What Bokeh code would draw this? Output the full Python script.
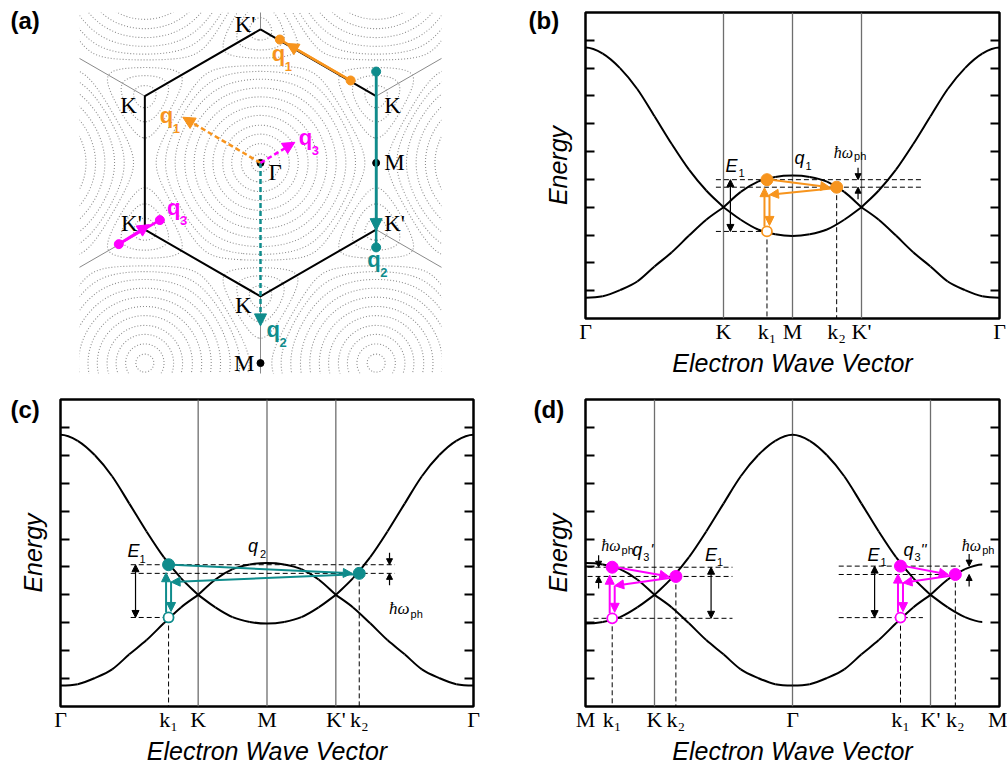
import numpy as np
from bokeh.plotting import figure
from bokeh.layouts import column, row
from bokeh.models import (Range1d, FixedTicker, LinearAxis, CustomJSTickFormatter,
                          Arrow, NormalHead, Title)
from bokeh.core.properties import value
from bokeh.embed import file_html
from bokeh.resources import INLINE

# ======================= DATA =======================
# Band structure, along Γ-K-M-K'-Γ
# (k in units of |KM|, energy in units of one y-tick spacing, 0 at the Dirac point)
band_k = [0.0, 0.25, 0.5, 0.75, 1.0, 1.25, 1.5, 1.75, 2.0, 2.25, 2.5, 2.75, 3.0,
          3.25, 3.5, 3.75, 4.0, 4.25, 4.5, 4.75, 5.0, 5.25, 5.5, 5.75, 6.0]
band_upper = [5.74, 5.52, 5.00, 4.25, 3.27, 2.27, 1.35, 0.60, 0.00, 0.55, 0.92, 1.09, 1.14,
              1.09, 0.92, 0.55, 0.00, 0.60, 1.35, 2.27, 3.27, 4.25, 5.00, 5.52, 5.74]
band_lower = [-3.25, -3.20, -2.98, -2.67, -2.13, -1.62, -1.02, -0.45, 0.00, -0.45, -0.80, -0.97, -1.03,
              -0.97, -0.80, -0.45, 0.00, -0.45, -1.02, -1.62, -2.13, -2.67, -2.98, -3.20, -3.25]
energy_ticks = [-3, -2, -1, 0, 1, 2, 3, 4, 5, 6]

path_bc_pos = [0, 2, 3, 4, 6]
path_bc_lab = ["Γ", "K", "M", "K'", "Γ"]
path_d_pos = [0, 1, 3, 5, 6]
path_d_lab = ["M", "K", "Γ", "K'", "M"]

# scattering processes: k1, k2 positions; energies of the excited state (E1),
# the state after phonon emission (E2) and the hole (Eh)
b_k = [2.63, 3.64]
b_E = [0.99, 0.72, -0.87]
c_k = [1.57, 4.34]
c_E = [1.08, 0.77, -0.81]
dL_k = [0.387, 1.31]
dL_E = [0.99, 0.66, -0.84]
dR_k = [4.565, 5.36]
dR_E = [1.03, 0.73, -0.815]

# Brillouin zone (panel a), units of |ΓM|
bz_angles = [90, 30, -30, -90, -150, 150]
bz_labels = ["K'", "K", "K'", "K", "K'", "K"]
sym_x = [0.0, 1.0, 0.0]
sym_y = [0.0, 0.0, -1.732]
sym_labels = ["Γ", "M", "M"]
q_subs = ["1", "2", "3"]
q_colors = ["#F7941D", "#0F8C8C", "#FF00FF"]
q_start_x = [0.779, 1.0, -1.225]
q_start_y = [0.713, 0.790, -0.703]
q_end_x = [0.167, 1.0, -0.870]
q_end_y = [1.067, -0.731, -0.495]
q_tip_x = [0.225, 1.0, -0.960]
q_tip_y = [1.033, -0.586, -0.534]
q_dtip_x = [-0.672, 0.0, 0.297]
q_dtip_y = [0.395, -1.410, 0.178]
contour_levels = [0.30, 0.60, 0.85, 1.09, 1.27, 1.51, 1.77, 2.02, 2.26, 2.47, 2.66, 2.80, 2.91, 2.98]

ORANGE, TEAL, MAGENTA = q_colors
SERIF = "Liberation Serif"
SANS = "Liberation Sans"

# ======================= HELPERS =======================
def smooth(p, xs, ys, kinks, edges, **kw):
    xs = np.asarray(xs, float)
    ys = np.asarray(ys, float)
    bounds = sorted(set([edges[0], edges[1]] + list(kinks)))
    acc = {k: [] for k in ("x0", "y0", "x1", "y1", "cx0", "cy0", "cx1", "cy1")}
    for a, b in zip(bounds[:-1], bounds[1:]):
        m = (xs >= a - 1e-9) & (xs <= b + 1e-9)
        bx, by = xs[m], ys[m]
        o = np.argsort(bx)
        bx, by = bx[o], by[o]
        if a in kinks:
            g0 = (2 * bx[0] - bx[1], 2 * by[0] - by[1])
        else:
            g0 = (2 * bx[0] - bx[1], by[1])
        if b in kinks:
            g1 = (2 * bx[-1] - bx[-2], 2 * by[-1] - by[-2])
        else:
            g1 = (2 * bx[-1] - bx[-2], by[-2])
        px = np.concatenate([[g0[0]], bx, [g1[0]]])
        py = np.concatenate([[g0[1]], by, [g1[1]]])
        for j in range(len(bx) - 1):
            P0 = np.array([px[j], py[j]]); P1 = np.array([px[j + 1], py[j + 1]])
            P2 = np.array([px[j + 2], py[j + 2]]); P3 = np.array([px[j + 3], py[j + 3]])
            C0 = P1 + (P2 - P0) / 6.0
            C1 = P2 - (P3 - P1) / 6.0
            acc["x0"].append(P1[0]); acc["y0"].append(P1[1])
            acc["x1"].append(P2[0]); acc["y1"].append(P2[1])
            acc["cx0"].append(C0[0]); acc["cy0"].append(C0[1])
            acc["cx1"].append(C1[0]); acc["cy1"].append(C1[1])
    p.bezier(**acc, **kw)


def band_fig(fw, fh, left, right, top, bottom, tick_pos, tick_lab):
    p = figure(frame_width=fw, frame_height=fh, x_range=Range1d(0, 6), y_range=Range1d(-4, 7),
               output_backend="svg", toolbar_location=None, tools="",
               min_border_left=left, min_border_right=right,
               min_border_top=top, min_border_bottom=bottom)
    p.grid.visible = False
    p.background_fill_color = "white"
    p.border_fill_color = "white"
    p.outline_line_color = "black"
    p.outline_line_width = 2.5
    p.outline_line_alpha = 1.0
    xa = p.xaxis[0]
    xa.ticker = FixedTicker(ticks=list(tick_pos))
    xa.major_label_overrides = {float(t): l for t, l in zip(tick_pos, tick_lab)}
    xa.major_tick_in = 0
    xa.major_tick_out = 0
    xa.minor_tick_in = 0
    xa.minor_tick_out = 0
    xa.axis_line_color = None
    xa.major_label_standoff = 0
    xa.major_label_text_font = SERIF
    xa.major_label_text_font_size = "22px"
    xa.major_label_text_color = "black"
    xa.axis_label = "Electron Wave Vector"
    xa.axis_label_text_font = SANS
    xa.axis_label_text_font_style = "italic"
    xa.axis_label_text_font_size = "25px"
    xa.axis_label_text_color = "black"
    xa.axis_label_standoff = 2
    for ax, loc in ((p.yaxis[0], None), (LinearAxis(), "right")):
        ax.ticker = FixedTicker(ticks=energy_ticks)
        ax.formatter = CustomJSTickFormatter(code="return ''")
        ax.major_tick_in = 9
        ax.major_tick_out = 0
        ax.minor_tick_in = 0
        ax.minor_tick_out = 0
        ax.major_tick_line_width = 2
        ax.major_tick_line_color = "black"
        ax.axis_line_color = None
        ax.major_label_standoff = 0
        if loc is not None:
            ax.axis_label = None
            ax.axis_label_standoff = 0
            p.add_layout(ax, loc)
    ya = p.yaxis[0]
    ya.axis_label = "Energy"
    ya.axis_label_text_font = SANS
    ya.axis_label_text_font_style = "italic"
    ya.axis_label_text_font_size = "25px"
    ya.axis_label_text_color = "black"
    ya.axis_label_standoff = 14
    return p


def px_units(p):
    return 6.0 / p.frame_width, 11.0 / p.frame_height


def draw_process(p, k, E, color, gx0, gx1, hx0, hx1, e1x, hwx):
    sx, sy = px_units(p)
    k1, k2 = k
    E1, E2, Eh = E
    Eb = E2 - (E1 - E2)
    p.segment(x0=[gx0, gx0, hx0], y0=[E1, E2, Eh], x1=[gx1, gx1, hx1], y1=[E1, E2, Eh],
              line_color="black", line_width=1, line_dash="5 3")
    p.segment(x0=[k1, k2], y0=[Eh, E2], x1=[k1, k2], y1=[-4, -4],
              line_color="black", line_width=1, line_dash="5 3")
    p.add_layout(Arrow(start=NormalHead(size=7, fill_color="black", line_color="black"),
                       end=NormalHead(size=7, fill_color="black", line_color="black"),
                       x_start=e1x, y_start=E1, x_end=e1x, y_end=Eh,
                       line_color="black", line_width=1.2))
    p.add_layout(Arrow(end=NormalHead(size=6, fill_color="black", line_color="black"),
                       x_start=hwx, y_start=E1 + 12 * sy, x_end=hwx, y_end=E1,
                       line_color="black", line_width=1.2))
    p.add_layout(Arrow(end=NormalHead(size=6, fill_color="black", line_color="black"),
                       x_start=hwx, y_start=E2 - 12 * sy, x_end=hwx, y_end=E2,
                       line_color="black", line_width=1.2))

    def head():
        return NormalHead(size=9, fill_color=color, line_color=color, line_width=1)
    p.add_layout(Arrow(end=head(), x_start=k1 - 2.5 * sx, y_start=Eh + 5 * sy,
                       x_end=k1 - 2.5 * sx, y_end=E1 - 8 * sy, line_color=color, line_width=2))
    p.add_layout(Arrow(end=head(), x_start=k1 + 4 * sx, y_start=E1,
                       x_end=k2 - 7 * sx, y_end=E2, line_color=color, line_width=2))
    p.add_layout(Arrow(end=head(), x_start=k2 - 3 * sx, y_start=E2 - 1 * sy,
                       x_end=k1 + 2.5 * sx, y_end=Eb, line_color=color, line_width=2))
    p.add_layout(Arrow(end=head(), x_start=k1 + 2.5 * sx, y_start=Eb,
                       x_end=k1 + 2.5 * sx, y_end=Eh + 6 * sy, line_color=color, line_width=2))
    p.scatter(x=[k1, k2], y=[E1, E2], size=12, fill_color=color, line_color=color)
    p.scatter(x=[k1], y=[Eh], size=10, fill_color="white", line_color=color, line_width=1.8)


def txt(p, x, y, t, size, font=SANS, style="italic", dx=0, dy=0, align="left", color="black"):
    # dy is the wanted baseline offset (px, downwards); the glyph is centred, so shift it
    fs = float(size.replace("px", ""))
    p.text(x=[x], y=[y], text=[t], x_offset=dx, y_offset=dy - 0.35 * fs, text_align=align,
           text_baseline="middle", text_font=value(font), text_font_style=style,
           text_font_size=size, text_color=color)


def panel_label(p, t, offset, standoff):
    p.add_layout(Title(text=t, align="left", vertical_align="bottom", offset=offset,
                       standoff=standoff, text_font=SANS, text_font_style="bold",
                       text_font_size="24px", text_color="black"), "above")

# ======================= PANEL (a) =======================
pa = figure(frame_width=362, frame_height=361,
            x_range=Range1d(-1.565, 1.565), y_range=Range1d(-1.822, 1.301),
            x_axis_location=None, y_axis_location=None,
            output_backend="svg", toolbar_location=None, tools="",
            min_border_left=79, min_border_right=59, min_border_top=12, min_border_bottom=12)
pa.grid.visible = False
pa.outline_line_color = None
pa.background_fill_color = "white"
pa.border_fill_color = "white"

gx = np.linspace(-1.62, 1.62, 361)
gy = np.linspace(-1.86, 1.34, 361)
GX, GY = np.meshgrid(gx, gy)
a1 = np.pi * np.array([1.0, -1.0 / np.sqrt(3)])
a2 = np.pi * np.array([0.0, 2.0 / np.sqrt(3)])
ph1 = GX * a1[0] + GY * a1[1]
ph2 = GX * a2[0] + GY * a2[1]
Z = np.sqrt(np.maximum(3 + 2 * np.cos(ph1) + 2 * np.cos(ph2) + 2 * np.cos(ph1 + ph2), 0))
pa.contour(gx, gy, Z, levels=contour_levels, line_color="#8c8c8c", line_width=1.1,
           line_dash="1 2")

bz_r = 2.0 / np.sqrt(3)
vx = [bz_r * np.cos(np.radians(a)) for a in bz_angles]
vy = [bz_r * np.sin(np.radians(a)) for a in bz_angles]
pa.segment(x0=vx, y0=vy, x1=[3 * v for v in vx], y1=[3 * v for v in vy],
           line_color="#8a8a8a", line_width=1)
pa.line(x=vx + [vx[0]], y=vy + [vy[0]], line_color="black", line_width=2)

for i in range(3):
    c = q_colors[i]
    pa.line(x=[q_start_x[i], q_end_x[i]], y=[q_start_y[i], q_end_y[i]], line_color=c, line_width=2.5)
    pa.add_layout(Arrow(end=NormalHead(size=12, fill_color=c, line_color=c),
                        x_start=q_start_x[i], y_start=q_start_y[i],
                        x_end=q_tip_x[i], y_end=q_tip_y[i], line_color=c, line_width=2.5))
    pa.add_layout(Arrow(end=NormalHead(size=12, fill_color=c, line_color=c),
                        x_start=0, y_start=0, x_end=q_dtip_x[i], y_end=q_dtip_y[i],
                        line_color=c, line_width=2.5, line_dash="5 3"))
    pa.scatter(x=[q_start_x[i], q_end_x[i]], y=[q_start_y[i], q_end_y[i]], size=9,
               fill_color=c, line_color=c)

pa.scatter(x=sym_x, y=sym_y, size=7, fill_color="black", line_color="black")

bz_dx = [-5, 8, 8, -9, -3, -8]
bz_dy = [3, 17, 2, 17, 2, 17]
bz_al = ["right", "left", "left", "right", "right", "right"]
for i in range(6):
    txt(pa, vx[i], vy[i], bz_labels[i], "23px", font=SERIF, style="normal",
        dx=bz_dx[i], dy=bz_dy[i], align=bz_al[i])
sym_dx = [8, 8, -6]
sym_dy = [18, 8, 8]
sym_al = ["left", "left", "right"]
for i in range(3):
    txt(pa, sym_x[i], sym_y[i], sym_labels[i], "23px", font=SERIF, style="normal",
        dx=sym_dx[i], dy=sym_dy[i], align=sym_al[i])

q_lab_solid = [(q_end_x[0], q_end_y[0], -8, 22), (q_end_x[1], q_end_y[1], -9, 20),
               (q_end_x[2], q_end_y[2], 7, -5)]
q_lab_dash = [(q_dtip_x[0], q_dtip_y[0], -23, 6), (q_dtip_x[1], q_dtip_y[1], 6, 11),
              (q_dtip_x[2], q_dtip_y[2], 4, 3)]
for i in range(3):
    for (ax_, ay_, dx_, dy_) in (q_lab_solid[i], q_lab_dash[i]):
        txt(pa, ax_, ay_, "q", "22px", style="bold", dx=dx_, dy=dy_, color=q_colors[i])
        txt(pa, ax_, ay_, q_subs[i], "13px", style="bold", dx=dx_ + 13, dy=dy_ + 10,
            color=q_colors[i])

panel_label(pa, "(a)", -69, -42)

# ======================= PANEL (b) =======================
pb = band_fig(414, 306, 85, 8, 12, 67,
              path_bc_pos[:2] + [b_k[0]] + [path_bc_pos[2]] + [b_k[1]] + path_bc_pos[3:],
              path_bc_lab[:2] + ["k₁"] + [path_bc_lab[2]] + ["k₂"] + path_bc_lab[3:])
pb.segment(x0=path_bc_pos[1:4], y0=[-4] * 3, x1=path_bc_pos[1:4], y1=[7] * 3,
           line_color="#6e6e6e", line_width=1.3)
smooth(pb, band_k, band_upper, [2, 4], [0, 6], line_color="black", line_width=2)
smooth(pb, band_k, band_lower, [2, 4], [0, 6], line_color="black", line_width=2)
draw_process(pb, b_k, b_E, ORANGE, 1.89, 4.88, 1.89, b_k[0], 2.10, 3.95)
txt(pb, 2.10, b_E[0], "E", "18px", dx=-5, dy=-7)
txt(pb, 2.10, b_E[0], "1", "11px", style="normal", dx=8, dy=-3)
txt(pb, 3.0, b_E[0], "q", "18px", dx=2, dy=-15)
txt(pb, 3.0, b_E[0], "1", "11px", style="normal", dx=13, dy=-10)
txt(pb, 3.95, b_E[0], "ħω", "16px", font=SERIF, dx=-5, dy=-22, align="right")
txt(pb, 3.95, b_E[0], "ph", "11px", style="normal", dx=-4, dy=-20)
panel_label(pb, "(b)", -57, -42)

# ======================= PANEL (c) =======================
pc = band_fig(413, 307, 60, 27, 14, 58,
              [path_bc_pos[0], c_k[0]] + path_bc_pos[1:4] + [c_k[1], path_bc_pos[4]],
              [path_bc_lab[0], "k₁"] + path_bc_lab[1:4] + ["k₂", path_bc_lab[4]])
pc.segment(x0=path_bc_pos[1:4], y0=[-4] * 3, x1=path_bc_pos[1:4], y1=[7] * 3,
           line_color="#6e6e6e", line_width=1.3)
smooth(pc, band_k, band_upper, [2, 4], [0, 6], line_color="black", line_width=2)
smooth(pc, band_k, band_lower, [2, 4], [0, 6], line_color="black", line_width=2)
draw_process(pc, c_k, c_E, TEAL, 1.02, 4.86, 1.02, c_k[0], 1.09, 4.78)
txt(pc, 1.09, c_E[0], "E", "18px", dx=-8, dy=-7)
txt(pc, 1.09, c_E[0], "1", "11px", style="normal", dx=4, dy=-2)
txt(pc, 3.0, c_E[0], "q", "18px", dx=-19, dy=-12)
txt(pc, 3.0, c_E[0], "2", "11px", style="normal", dx=-7, dy=-7)
txt(pc, 4.78, c_E[1], "ħω", "17px", font=SERIF, dx=20, dy=41, align="right")
txt(pc, 4.78, c_E[1], "ph", "11px", style="normal", dx=21, dy=44)
panel_label(pc, "(c)", -50, -46)

# ======================= PANEL (d) =======================
band_k_arr = np.array(band_k)
sel1 = band_k_arr <= 3
sel2 = (band_k_arr > 3) & (band_k_arr < 6)
d_s = np.concatenate([3 - band_k_arr[sel1], 9 - band_k_arr[sel2]])
d_up = np.concatenate([np.array(band_upper)[sel1], np.array(band_upper)[sel2]])
d_lo = np.concatenate([np.array(band_lower)[sel1], np.array(band_lower)[sel2]])

pd_ = band_fig(414, 307, 85, 8, 14, 58,
               [path_d_pos[0], dL_k[0], path_d_pos[1], dL_k[1], path_d_pos[2],
                dR_k[0], path_d_pos[3], dR_k[1], path_d_pos[4]],
               [path_d_lab[0], "k₁", path_d_lab[1], "k₂", path_d_lab[2],
                "k₁", path_d_lab[3], "k₂", path_d_lab[4]])
pd_.segment(x0=path_d_pos[1:4], y0=[-4] * 3, x1=path_d_pos[1:4], y1=[7] * 3,
            line_color="#6e6e6e", line_width=1.3)
smooth(pd_, d_s, d_up, [1, 5], [0, 6], line_color="black", line_width=2)
smooth(pd_, d_s, d_lo, [1, 5], [0, 6], line_color="black", line_width=2)
draw_process(pd_, dL_k, dL_E, MAGENTA, 0.03, 2.13, 0.116, 2.13, 1.82, 0.19)
draw_process(pd_, dR_k, dR_E, MAGENTA, 3.67, 5.43, 3.67, 4.89, 4.19, 5.56)
txt(pd_, 1.82, dL_E[0], "E", "18px", dx=-6, dy=-6)
txt(pd_, 1.82, dL_E[0], "1", "11px", style="normal", dx=6, dy=-1)
txt(pd_, dL_k[0], dL_E[0], "q", "18px", dx=20, dy=-11)
txt(pd_, dL_k[0], dL_E[0], "3", "11px", style="normal", dx=31, dy=-6)
txt(pd_, dL_k[0], dL_E[0], "'", "16px", dx=38, dy=-11)
txt(pd_, 0.19, dL_E[0], "ħω", "16px", font=SERIF, dx=22, dy=-16, align="right")
txt(pd_, 0.19, dL_E[0], "ph", "11px", style="normal", dx=23, dy=-13)
txt(pd_, 4.19, dR_E[0], "E", "18px", dx=-7, dy=-5)
txt(pd_, 4.19, dR_E[0], "1", "11px", style="normal", dx=6, dy=0)
txt(pd_, dR_k[0], dR_E[0], "q", "18px", dx=3, dy=-10)
txt(pd_, dR_k[0], dR_E[0], "3", "11px", style="normal", dx=14, dy=-5)
txt(pd_, dR_k[0], dR_E[0], "''", "16px", dx=20, dy=-10)
txt(pd_, 5.56, dR_E[0], "ħω", "16px", font=SERIF, dx=12, dy=-15, align="right")
txt(pd_, 5.56, dR_E[0], "ph", "11px", style="normal", dx=13, dy=-12)
panel_label(pd_, "(d)", -52, -46)

layout = column(row(column(pa), column(pb)), row(column(pc), column(pd_)))
open("out.html", "w").write(file_html(layout, INLINE))
